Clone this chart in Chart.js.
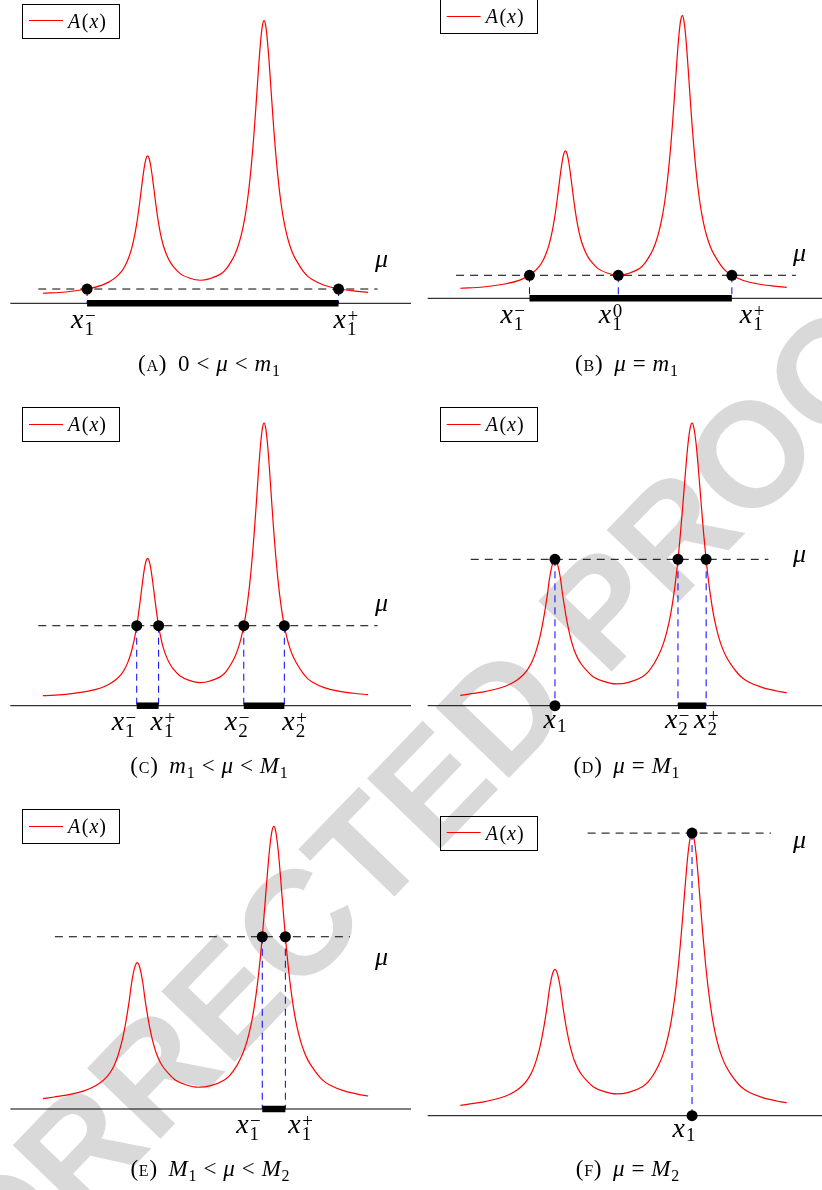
<!DOCTYPE html>
<html lang="en">
<head>
<meta charset="utf-8">
<title>A(x) and the level sets {A(x) ≥ μ}</title>
<script src="https://cdn.jsdelivr.net/npm/chart.js@4.4.1/dist/chart.umd.min.js"></script>
<style>
  html, body { margin: 0; padding: 0; background: #ffffff; }
  #page { position: relative; width: 822px; height: 1190px; overflow: hidden; }
  #stamp {
    position: absolute; left: 411px; top: 806px;
    transform: translate(-50%, -50%) rotate(-46deg);
    font: bold 148px/1 "Liberation Sans", Arial, sans-serif;
    color: #d9d9d9; white-space: nowrap; pointer-events: none;
  }
  canvas { position: absolute; }
</style>
</head>
<body>
<div id="page">
  <div id="stamp">CORRECTED PROOF</div>
</div>
<script>
// ---------- data ----------
// A(x) sampled, panels (a)-(c)
const xNear = [-5.00,-4.30,-3.64,-3.20,-2.98,-2.78,-2.58,-2.48,-2.38,-2.28,-2.23,-2.18,-2.13,-2.08,-2.03,-1.98,-1.93,-1.88,-1.83,-1.78,
  -1.73,-1.68,-1.63,-1.58,-1.53,-1.48,-1.43,-1.38,-1.33,-1.28,-1.18,-1.08,-0.98,-0.78,-0.48,-0.16,0.14,0.50,0.65,0.80,
  0.90,1.00,1.10,1.20,1.25,1.30,1.35,1.40,1.45,1.50,1.55,1.60,1.65,1.70,1.75,1.80,1.85,1.90,1.95,2.00,
  2.05,2.10,2.15,2.20,2.25,2.30,2.35,2.40,2.50,2.60,2.70,2.80,3.00,3.14,3.28,3.65,4.09,4.55,5.00];
const aNear = [0.071,0.080,0.101,0.127,0.150,0.180,0.226,0.262,0.312,0.380,0.427,0.479,0.543,0.616,0.701,0.794,0.885,0.966,1.022,1.043,
  1.023,0.968,0.888,0.798,0.706,0.622,0.550,0.488,0.438,0.397,0.335,0.290,0.257,0.210,0.177,0.163,0.175,0.212,0.247,0.300,
  0.344,0.404,0.484,0.594,0.664,0.747,0.843,0.955,1.084,1.230,1.392,1.561,1.727,1.868,1.965,2.000,1.965,1.868,1.727,1.561,
  1.392,1.230,1.084,0.955,0.843,0.747,0.664,0.594,0.484,0.404,0.344,0.300,0.228,0.192,0.168,0.128,0.103,0.088,0.078];

// A(x) sampled, panels (d)-(f)
const xWide = [-5.00,-4.65,-4.28,-3.76,-3.50,-3.27,-3.04,-2.92,-2.80,-2.69,-2.63,-2.57,-2.51,-2.45,-2.39,-2.33,-2.28,-2.22,-2.16,-2.10,
  -2.04,-1.98,-1.92,-1.87,-1.81,-1.75,-1.69,-1.63,-1.57,-1.515,-1.40,-1.28,-1.16,-0.93,-0.58,-0.22,0.158,0.579,0.755,0.93,
  1.047,1.164,1.281,1.398,1.457,1.515,1.574,1.632,1.691,1.749,1.808,1.866,1.925,1.983,2.042,2.10,2.158,2.217,2.276,2.334,
  2.393,2.451,2.510,2.568,2.627,2.685,2.743,2.802,2.919,3.036,3.153,3.27,3.504,3.668,3.832,4.265,4.779,5.00];
const aWide = [0.073,0.085,0.098,0.127,0.150,0.180,0.226,0.262,0.312,0.379,0.426,0.477,0.541,0.614,0.698,0.790,0.880,0.960,1.015,1.036,
  1.016,0.962,0.883,0.794,0.703,0.620,0.549,0.487,0.437,0.396,0.335,0.290,0.257,0.205,0.170,0.154,0.165,0.205,0.240,0.295,
  0.344,0.404,0.484,0.594,0.664,0.747,0.843,0.955,1.084,1.230,1.392,1.561,1.727,1.868,1.965,2.000,1.965,1.868,1.727,1.561,
  1.392,1.230,1.084,0.955,0.843,0.747,0.664,0.594,0.484,0.404,0.344,0.300,0.228,0.192,0.168,0.128,0.100,0.092];

// level μ in each panel (a)..(f)
const muLevels = [0.101, 0.163, 0.566, 1.036, 1.219, 2.000];
// extent of the dashed level line
const muSpans = [[-5.14, 5.29], [-5.13, 5.28], [-5.14, 5.29], [-4.68, 4.44], [-4.63, 4.44], [-1.10, 4.52]];

// crossings A(x) = μ
const rootsA = [-3.64, 4.09];
const rootsB = [-2.88, -0.16, 3.32];
const rootsC = [-2.114, -1.441, 1.177, 2.423];
const rootsD = [-2.10, 1.669, 2.532];
const rootsE = [1.745, 2.455];
const rootsF = [2.10];

// crossing names: [base, subscript, superscript]
const labelsA = [['x','1','−'], ['x','1','+']];
const labelsB = [['x','1','−'], ['x','1','0'], ['x','1','+']];
const labelsC = [['x','1','−'], ['x','1','+'], ['x','2','−'], ['x','2','+']];
const labelsD = [['x','1',''], ['x','2','−'], ['x','2','+']];
const labelsE = [['x','1','−'], ['x','1','+']];
const labelsF = [['x','1','']];

// intervals where A(x) ≥ μ
const bandsA = [[-3.64, 4.09]];
const bandsB = [[-2.88, 3.32]];
const bandsC = [[-2.114, -1.441], [1.177, 2.423]];
const bandsD = [[1.669, 2.532]];
const bandsE = [[1.745, 2.455]];
const bandsF = [];

// isolated crossings also marked on the x-axis
const axisDotsD = [-2.10];
const axisDotsF = [2.10];

// sub-captions
const captionA = ['(A)', '0', '<', 'μ', '<', 'm_1'];
const captionB = ['(B)', 'μ', '=', 'm_1'];
const captionC = ['(C)', 'm_1', '<', 'μ', '<', 'M_1'];
const captionD = ['(D)', 'μ', '=', 'M_1'];
const captionE = ['(E)', 'M_1', '<', 'μ', '<', 'M_2'];
const captionF = ['(F)', 'μ', '=', 'M_2'];

// ---------- layout ----------
const CANVAS_W = 411;
const Y_UNIT = 141.3;           // px per unit of A
const AXIS_START = -6.0;
const COLS = { L: { center: 205.5, unit: 32.53 }, R: { center: 212.5, unit: 32.64 } };

const panels = [
  { col:'L', left:0,   top:0,   h:390, axisRow:303.3, xs:xNear, ys:aNear, mu:muLevels[0], span:muSpans[0],
    roots:rootsA, labels:labelsA, bands:bandsA, axisDots:[], caption:captionA,
    legend:{x:22, y:4}, captionAt:[209, 371], muLabelX:5.41, muLabelDy:-22.5, labelDy:25, labelShift:[-4, 7] },
  { col:'R', left:411, top:0,   h:390, axisRow:298.3, xs:xNear, ys:aNear, mu:muLevels[1], span:muSpans[1],
    roots:rootsB, labels:labelsB, bands:bandsB, axisDots:[], caption:captionB,
    legend:{x:28.7, y:-0.7}, captionAt:[215.5, 371], muLabelX:5.39, muLabelDy:-14.3, labelDy:25, labelShift:[-17, -8, 20] },
  { col:'L', left:0,   top:395, h:395, axisRow:705.7, xs:xNear, ys:aNear, mu:muLevels[2], span:muSpans[2],
    roots:rootsC, labels:labelsC, bands:bandsC, axisDots:[], caption:captionC,
    legend:{x:22, y:11.7}, captionAt:[209, 378], muLabelX:5.41, muLabelDy:-14.7, labelDy:24.5, labelShift:[-13, 4, -7, 10] },
  { col:'R', left:411, top:395, h:395, axisRow:705.7, xs:xWide, ys:aWide, mu:muLevels[3], span:muSpans[3],
    roots:rootsD, labels:labelsD, bands:bandsD, axisDots:axisDotsD, caption:captionD,
    legend:{x:28.7, y:11.7}, captionAt:[215.5, 378], muLabelX:5.39, muLabelDy:2.7, labelDy:22, labelShift:[0, -1, 0] },
  { col:'L', left:0,   top:795, h:395, axisRow:1109,  xs:xWide, ys:aWide, mu:muLevels[4], span:muSpans[4],
    roots:rootsE, labels:labelsE, bands:bandsE, axisDots:[], caption:captionE,
    legend:{x:22, y:14.3}, captionAt:[210, 381], muLabelX:5.41, muLabelDy:28.3, labelDy:24, labelShift:[-14, 15] },
  { col:'R', left:411, top:795, h:395, axisRow:1115.7, xs:xWide, ys:aWide, mu:muLevels[5], span:muSpans[5],
    roots:rootsF, labels:labelsF, bands:bandsF, axisDots:axisDotsF, caption:captionF,
    legend:{x:28.7, y:21}, captionAt:[216.5, 381], muLabelX:5.39, muLabelDy:15.2, labelDy:21.5, labelShift:[-8] }
];

// ---------- text helpers ----------
// pick the first installed serif face (compared against a monospace fallback)
function pickSerif() {
  const c = document.createElement('canvas').getContext('2d');
  const probe = 'xμAm1(0)<=';
  c.font = '40px monospace';
  const ref = c.measureText(probe).width;
  for (const fam of ['Liberation Serif', 'DejaVu Serif', 'Times New Roman']) {
    c.font = '40px "' + fam + '", monospace';
    if (Math.abs(c.measureText(probe).width - ref) > 0.5) return '"' + fam + '", serif';
  }
  return 'serif';
}
const SERIF = pickSerif();

function setFont(ctx, size, italic) {
  ctx.font = (italic ? 'italic ' : '') + size + 'px ' + SERIF;
}
function drawRuns(ctx, runs, x, baseline, align) {
  let w = 0;
  runs.forEach(r => {
    setFont(ctx, r.size, r.italic);
    r.w = ctx.measureText(r.t).width;
    r.x0 = w + (r.gap || 0);
    w = r.x0 + r.w;
  });
  const left = align === 'center' ? x - w / 2 : x;
  ctx.textAlign = 'left';
  ctx.textBaseline = 'alphabetic';
  runs.forEach(r => {
    setFont(ctx, r.size, r.italic);
    ctx.fillText(r.t, left + r.x0, baseline + (r.dy || 0));
  });
}
function captionRuns(tokens, size) {
  const runs = [];
  const small = Math.round(size * 0.7);
  let pending = 0;
  tokens.forEach(tok => {
    const tag = /^\((.)\)$/.exec(tok);
    if (tag) {
      runs.push({ t:'(', size }, { t:tag[1], size:small, gap:0.8 }, { t:')', size, gap:0.8 });
      pending = size * 0.5;
    } else if (tok === '<' || tok === '=') {
      runs.push({ t:tok, size, gap: pending + size * 0.3 });
      pending = size * 0.3;
    } else if (/^\d+$/.test(tok)) {
      runs.push({ t:tok, size, gap:pending });
      pending = 0;
    } else {
      const parts = tok.split('_');
      runs.push({ t:parts[0], size, italic:true, gap:pending });
      if (parts[1]) runs.push({ t:parts[1], size:small, dy:size * 0.2, gap:0.8 });
      pending = 0;
    }
  });
  return runs;
}
function drawRootLabel(ctx, lab, cx, baseline) {
  const [b, s, p] = lab;
  setFont(ctx, 28, true);
  const wb = ctx.measureText(b).width;
  setFont(ctx, 19, false);
  const ws = ctx.measureText(s).width;
  const wp = p ? ctx.measureText(p).width : 0;
  const w = wb + 1 + Math.max(ws, wp);
  const left = cx - w / 2;
  ctx.textAlign = 'left';
  ctx.textBaseline = 'alphabetic';
  setFont(ctx, 28, true);
  ctx.fillText(b, left, baseline);
  setFont(ctx, 19, false);
  ctx.fillText(s, left + wb + 1, baseline + (p ? 7 : 4));
  if (p) ctx.fillText(p, left + wb + 1.5, baseline - 6);
}
const legendRuns = () => [
  { t:'A', size:20, italic:true },
  { t:'(', size:20, gap:1.5 },
  { t:'x', size:20, italic:true, gap:1 },
  { t:')', size:20, gap:1 }
];

// ---------- charts ----------
function buildPanel(p) {
  const col = COLS[p.col];
  const xMin = -col.center / col.unit, xMax = (CANVAS_W - col.center) / col.unit;
  const yMax = (p.axisRow - p.top) / Y_UNIT, yMin = yMax - p.h / Y_UNIT;

  const canvas = document.createElement('canvas');
  canvas.width = CANVAS_W;
  canvas.height = p.h;
  canvas.style.left = p.left + 'px';
  canvas.style.top = p.top + 'px';
  document.getElementById('page').appendChild(canvas);

  const pt = (x, y) => ({ x, y });
  const datasets = [];
  // first dataset is painted last (on top)
  datasets.push({ label:'crossings', data: p.roots.map(r => pt(r, p.mu)).concat(p.axisDots.map(r => pt(r, 0))),
    showLine:false, pointRadius:5.5, pointBackgroundColor:'#000', pointBorderWidth:0 });
  p.bands.forEach(b => datasets.push({ label:'set', data:[pt(b[0], 0), pt(b[1], 0)],
    borderColor:'#000', borderWidth:6.5, borderCapStyle:'butt', pointRadius:0 }));
  datasets.push({ label:'A(x)', data: p.xs.map((x, i) => pt(x, p.ys[i])),
    borderColor:'#ff0000', borderWidth:1.2, pointRadius:0, cubicInterpolationMode:'monotone' });
  datasets.push({ label:'μ', data:[pt(p.span[0], p.mu), pt(p.span[1], p.mu)],
    borderColor:'#000', borderWidth:1, borderDash:[8, 6], pointRadius:0 });
  p.roots.forEach(r => datasets.push({ label:'drop', data:[pt(r, p.mu), pt(r, 0)],
    borderColor:'#0000ff', borderWidth:1, borderDash:[7, 5], pointRadius:0 }));
  datasets.push({ label:'axis', data:[pt(AXIS_START, 0), pt(xMax, 0)],
    borderColor:'#000', borderWidth:1, pointRadius:0 });

  const decor = {
    id: 'panelDecor',
    afterDraw(chart) {
      const ctx = chart.ctx, sx = chart.scales.x, sy = chart.scales.y;
      ctx.save();
      // legend box with its red key line
      const L = p.legend;
      const boxTop = Math.round(L.y);
      ctx.strokeStyle = '#000';
      ctx.lineWidth = 1;
      ctx.strokeRect(Math.round(L.x) + 0.5, boxTop + 0.5, 97, 34);
      let keyRow = boxTop + 17;
      if ((p.top + keyRow) % 2) keyRow -= 1;
      ctx.strokeStyle = '#ff0000';
      ctx.lineWidth = 1.2;
      ctx.beginPath();
      ctx.moveTo(L.x + 7, keyRow + 0.5);
      ctx.lineTo(L.x + 41, keyRow + 0.5);
      ctx.stroke();
      ctx.fillStyle = '#000';
      drawRuns(ctx, legendRuns(), L.x + 46, L.y + 24, 'left');
      // crossing names under the axis
      const axisY = sy.getPixelForValue(0);
      p.labels.forEach((lab, i) =>
        drawRootLabel(ctx, lab, sx.getPixelForValue(p.roots[i]) + p.labelShift[i], axisY + p.labelDy));
      // level name
      drawRuns(ctx, [{ t:'μ', size:26, italic:true }], sx.getPixelForValue(p.muLabelX),
        sy.getPixelForValue(p.mu) + p.muLabelDy, 'center');
      // sub-caption
      drawRuns(ctx, captionRuns(p.caption, 23), p.captionAt[0], p.captionAt[1], 'center');
      ctx.restore();
    }
  };

  new Chart(canvas, {
    type: 'line',
    data: { datasets },
    options: {
      responsive: false,
      animation: false,
      devicePixelRatio: 1,
      events: [],
      layout: { padding: 0, autoPadding: false },
      plugins: { legend: { display: false }, tooltip: { enabled: false } },
      scales: {
        x: { type: 'linear', display: false, min: xMin, max: xMax, bounds: 'data' },
        y: { type: 'linear', display: false, min: yMin, max: yMax, bounds: 'data' }
      }
    },
    plugins: [decor]
  });
}

panels.forEach(buildPanel);
</script>
</body>
</html>
